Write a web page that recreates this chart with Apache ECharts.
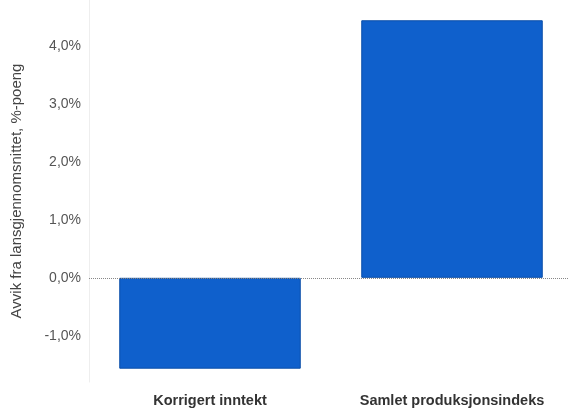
<!DOCTYPE html>
<html><head><meta charset="utf-8">
<script src="https://cdn.jsdelivr.net/npm/echarts@6/dist/echarts.min.js"></script>
<style>html,body{margin:0;padding:0;background:#fff}#c{width:569px;height:412px}</style>
</head><body><div id="c"></div>
<script>
const categories = ['Korrigert inntekt', 'Samlet produksjonsindeks'];
const values = [-1.57, 4.45];
const yTicks = [-1, 0, 1, 2, 3, 4];
const yTitle = 'Avvik fra lansgjennomsnittet, %-poeng';

const chart = echarts.init(document.getElementById('c'), null, {renderer: 'canvas'});
chart.setOption({
  animation: false,
  backgroundColor: '#fff',
  grid: {left: 89, width: 484, top: 0, height: 382, containLabel: false, outerBoundsMode: 'none'},
  xAxis: {
    type: 'category', data: categories,
    axisLine: {show: false}, axisTick: {show: false},
    axisLabel: {color: '#333', fontFamily: 'Liberation Sans, Arial', fontWeight: 'bold', fontSize: 14.5, margin: 11}
  },
  yAxis: {
    type: 'value', min: -1.8, max: 4.8,
    name: yTitle, nameLocation: 'middle', nameGap: 65,
    nameTextStyle: {color: '#444', fontFamily: 'Liberation Sans, Arial', fontSize: 15},
    axisLine: {show: true, lineStyle: {color: '#eeeeee'}}, axisTick: {show: false},
    splitLine: {show: false},
    axisLabel: {
      customValues: yTicks,
      color: '#555', fontFamily: 'Liberation Sans, Arial', fontSize: 14, margin: 8,
      formatter: v => v.toFixed(1).replace('.', ',') + '%'
    }
  },
  series: [{
    type: 'bar', data: values, barWidth: '75%',
    itemStyle: {color: '#0f60cc', borderColor: '#0a4ea8', borderWidth: 1},
    markLine: {
      silent: true, symbol: 'none', label: {show: false},
      lineStyle: {color: '#888', type: 'dotted', width: 1},
      data: [{yAxis: 0}]
    }
  }]
});
</script></body></html>
